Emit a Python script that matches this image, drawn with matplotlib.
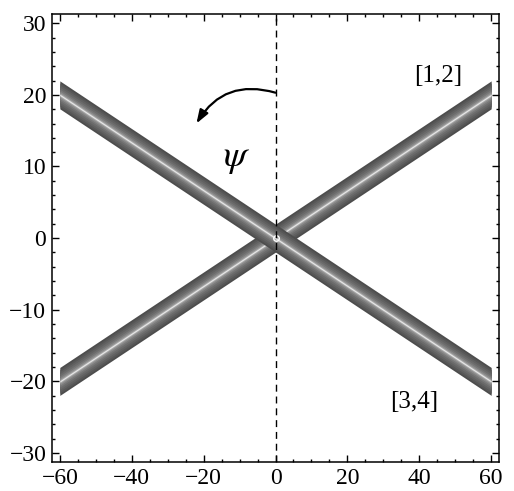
import numpy as np
import matplotlib.pyplot as plt
from matplotlib.ticker import MultipleLocator

plt.rcParams['font.family'] = ['Liberation Serif', 'DejaVu Serif']
plt.rcParams['mathtext.fontset'] = 'stix'

# band data: two crossing beams
band_x = np.array([-60.0, 60.0])
band_slopes = [1 / 3, -1 / 3]
band_halfwidth = 1.95

# labels
labels = ["[1,2]", "[3,4]"]
label_pos = [(45.3, 22.6), (38.5, -22.9)]
psi_pos = (-10.9, 11.1)
arrow_start = (0.0, 20.3)
arrow_end = (-22.0, 16.0)

# gray profile of a band (fraction of half width, gray level)
profile = [(1.00, 0.30), (0.85, 0.34), (0.70, 0.38), (0.55, 0.42),
           (0.40, 0.47), (0.27, 0.54), (0.15, 0.64), (0.07, 0.80), (0.025, 0.95)]

fig = plt.figure(figsize=(5.14, 4.91), dpi=100)
ax = fig.add_axes([0.101, 0.059, 0.870, 0.912])

for s in band_slopes:
    yc = s * band_x
    for frac, g in profile:
        ax.fill_between(band_x, yc - frac * band_halfwidth, yc + frac * band_halfwidth,
                        color=str(g), lw=0, zorder=2)

ax.plot([0], [0], 'o', ms=4, mfc='none', mec='white', mew=1, zorder=3)

ax.axvline(0, color='black', lw=1, ls=(0, (5, 3.5)), zorder=4)

ax.annotate("", xy=arrow_end, xytext=arrow_start,
            arrowprops=dict(arrowstyle="-|>,head_length=0.8,head_width=0.28",
                            connectionstyle="arc3,rad=0.38", lw=1.6, color='black',
                            shrinkA=0, shrinkB=0), zorder=5)
ax.text(psi_pos[0], psi_pos[1], r"$\psi$", fontsize=27, ha='center', va='center')

for t, (x, y) in zip(labels, label_pos):
    ax.text(x, y, t, fontsize=18, ha='center', va='center')

ax.set_xlim(-62.2, 62.2)
ax.set_ylim(-31.25, 31.25)
ax.xaxis.set_major_locator(MultipleLocator(20))
ax.xaxis.set_minor_locator(MultipleLocator(5))
ax.yaxis.set_major_locator(MultipleLocator(10))
ax.yaxis.set_minor_locator(MultipleLocator(2))
ax.tick_params(which='both', direction='in', top=True, right=True, width=1, labelsize=17)
ax.tick_params(which='major', length=5, pad=4)
ax.tick_params(which='minor', length=2.5)
for sp in ax.spines.values():
    sp.set_linewidth(1.1)

fig.savefig("out.png", dpi=100)
